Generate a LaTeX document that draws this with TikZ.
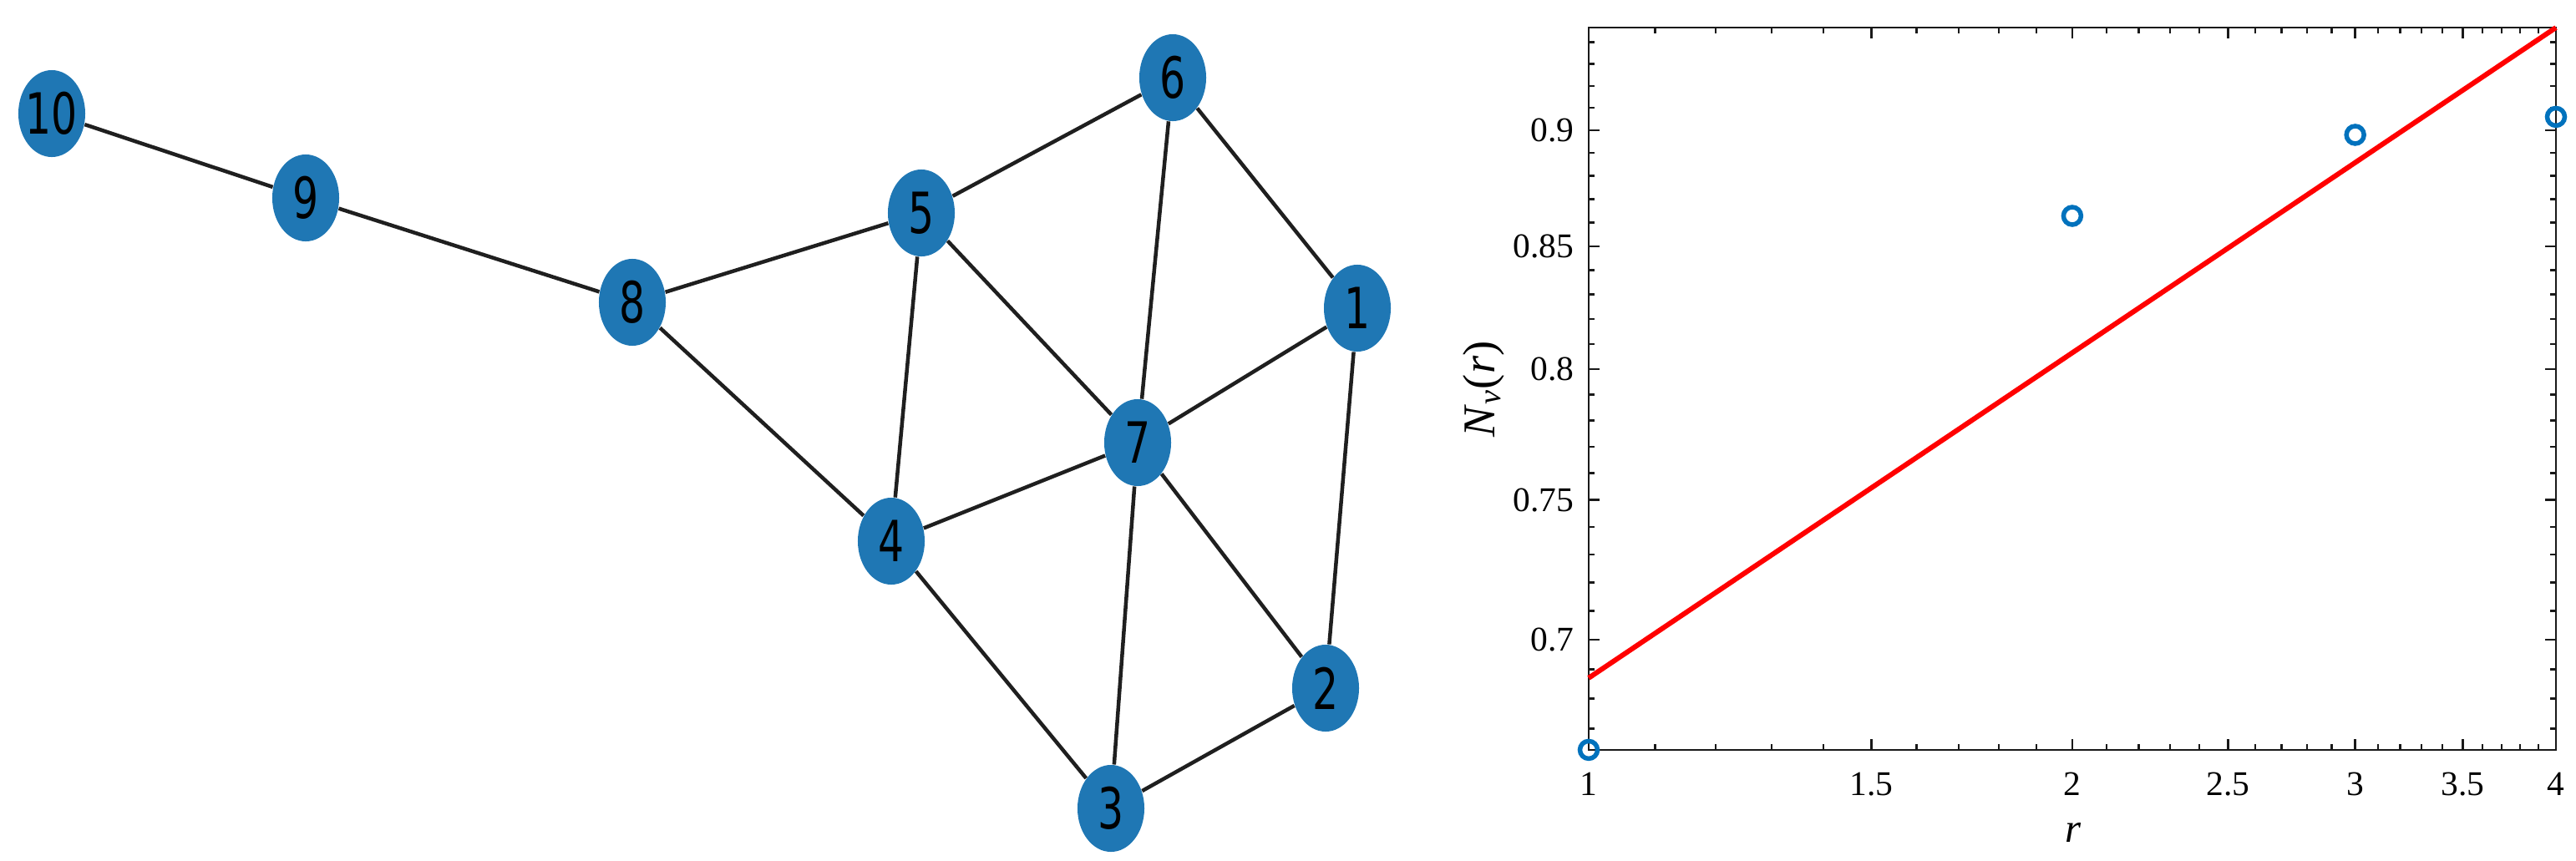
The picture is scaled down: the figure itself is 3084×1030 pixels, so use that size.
\documentclass[tikz,border=0pt]{standalone}
\usepackage{fontspec}
\setmainfont{Liberation Serif}
\newfontfamily\vfont{DejaVu Sans}
\usetikzlibrary{shapes.geometric}
\definecolor{vblue}{HTML}{1F77B4}
\definecolor{mblue}{HTML}{0072BD}
\newcommand\vlabel[1]{\makebox[0pt]{\scalebox{1}[1.39]{#1}}}
\pgfmathdeclarefunction{rpos}{1}{\pgfmathparse{1902+835.3*ln(#1)}}
\pgfmathdeclarefunction{npos}{1}{\pgfmathparse{766-2427*ln(#1/0.7)}}

\begin{document}
\begin{tikzpicture}[
		x=0.01cm, y=-0.01cm,
		vertex/.style = {ellipse, fill=vblue, inner sep=0pt, minimum width=0.8cm, minimum height=1.04cm, font=\vfont\fontsize{13.9}{14}\selectfont},
		link/.style = {draw=black!88, line width=0.045cm},
		axisbox/.style = {draw=black!90, line width=0.028cm},
		tickline/.style = {draw=black!90, line width=0.024cm},
		ticklab/.style = {inner sep=0pt, font=\fontsize{11.8}{12}\selectfont},
		axlab/.style = {inner sep=0pt, font=\fontsize{13.9}{14}\selectfont},
		fitline/.style = {draw=red, line width=0.06cm},
		datapt/.style = {circle, draw=mblue, line width=0.055cm, inner sep=0pt, minimum size=0.21cm}
	]
	\useasboundingbox (0,0) rectangle (3084,1030);

	% graph
	\node (n10) [vertex] at (62,136) {\vlabel{10}};
	\node (n9) [vertex] at (366,237) {\vlabel{9}};
	\node (n8) [vertex] at (757,362) {\vlabel{8}};
	\node (n5) [vertex] at (1103,255) {\vlabel{5}};
	\node (n6) [vertex] at (1404,93) {\vlabel{6}};
	\node (n1) [vertex] at (1625,369) {\vlabel{1}};
	\node (n7) [vertex] at (1362,530) {\vlabel{7}};
	\node (n4) [vertex] at (1067,648) {\vlabel{4}};
	\node (n2) [vertex] at (1587,824) {\vlabel{2}};
	\node (n3) [vertex] at (1330,968) {\vlabel{3}};

	\path [link] (n10) edge (n9);
	\path [link] (n9) edge (n8);
	\path [link] (n8) edge (n5);
	\path [link] (n8) edge (n4);
	\path [link] (n5) edge (n6);
	\path [link] (n5) edge (n4);
	\path [link] (n5) edge (n7);
	\path [link] (n6) edge (n7);
	\path [link] (n6) edge (n1);
	\path [link] (n1) edge (n7);
	\path [link] (n1) edge (n2);
	\path [link] (n7) edge (n4);
	\path [link] (n7) edge (n2);
	\path [link] (n7) edge (n3);
	\path [link] (n4) edge (n3);
	\path [link] (n3) edge (n2);

	% log-log plot
	\coordinate (ll) at (1902,898);
	\coordinate (ur) at (3060,33);
	\draw [axisbox] (ll) rectangle (ur);
	\foreach \k in {11,...,39} {
		\draw [tickline] ({rpos(\k/10)},898) -- ++(0,-7);
		\draw [tickline] ({rpos(\k/10)},33) -- ++(0,7);
	}
	\foreach \r in {1.5,2,2.5,3,3.5} {
		\draw [tickline] ({rpos(\r)},898) -- ++(0,-13);
		\draw [tickline] ({rpos(\r)},33) -- ++(0,13);
	}
	\foreach \k in {67,...,94} {
		\draw [tickline] (1902,{npos(\k/100)}) -- ++(7,0);
		\draw [tickline] (3060,{npos(\k/100)}) -- ++(-7,0);
	}
	\foreach \v in {0.7,0.75,0.8,0.85,0.9} {
		\draw [tickline] (1902,{npos(\v)}) -- ++(13,0);
		\draw [tickline] (3060,{npos(\v)}) -- ++(-13,0);
	}
	\foreach \v/\n in {0.7/70,0.75/75,0.8/80,0.85/85,0.9/90}
		\node [ticklab, anchor=east] (yl\n) at (1885,{npos(\v)}) {\v};
	\foreach \r/\n in {1/10,1.5/15,2/20,2.5/25,3/30,3.5/35,4/40}
		\node [ticklab, anchor=base] (xl\n) at ({rpos(\r)},952) {\r};
	\node [axlab, anchor=base] (xlab) at (2482,1008) {\textit{r}};
	\node [axlab, rotate=90, font=\fontsize{15.5}{16}\selectfont] (ylab) at (1776,466) {\textit{N}\textsubscript{\textit{v}}(\textit{r})};

	\coordinate (fitlo) at (1902,{npos(0.687)});
	\coordinate (fithi) at (ur);
	\draw [fitline] (fitlo) -- (fithi);
	\foreach \r/\v in {1/0.663,2/0.8628,3/0.898,4/0.906}
		\node [datapt] (pt\r) at ({rpos(\r)},{npos(\v)}) {};
\end{tikzpicture}
\end{document}
